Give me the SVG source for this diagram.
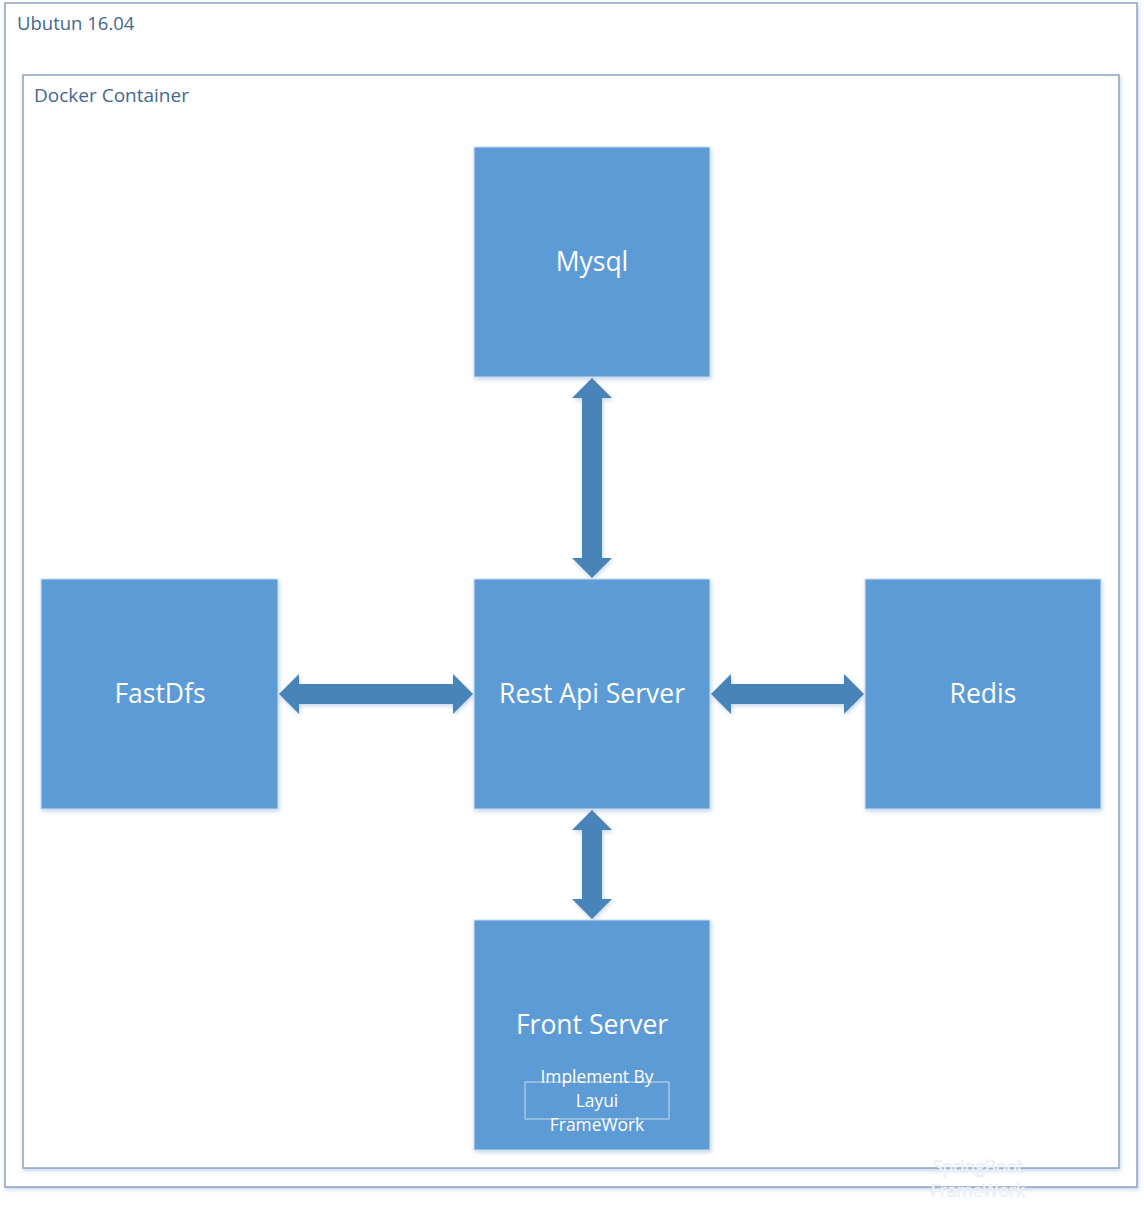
<svg xmlns="http://www.w3.org/2000/svg" width="1144" height="1217" viewBox="0 0 1144 1217">
<defs>
<style>
.frame{fill:#fff;stroke:#8ea3bf;stroke-width:1.5}
.flabel{font-family:"Open Sans","Noto Sans",sans-serif;font-size:18.5px;fill:#44678f}
.box{fill:#5b9bd5;stroke:#cfe0f0;stroke-width:1}
.title{font-family:"Open Sans","Noto Sans",sans-serif;font-size:26.5px;fill:#fff;text-anchor:middle}
.sub{font-family:"Open Sans","Noto Sans",sans-serif;font-size:17.4px;fill:#fff;text-anchor:middle}
.arrow{fill:#4a84b8}
</style>
<filter id="sh" x="-10%" y="-10%" width="120%" height="120%">
<feDropShadow dx="1" dy="2" stdDeviation="2" flood-color="#9dbbe0" flood-opacity="0.6"/>
</filter>
</defs>
<g id="ubuntu">
<rect class="frame" x="5" y="3" width="1132" height="1184" filter="url(#sh)"/>
<text class="flabel" x="17" y="30">Ubutun 16.04</text>
</g>
<g id="docker">
<rect class="frame" x="23" y="75" width="1096" height="1093" filter="url(#sh)"/>
<text class="flabel" x="34" y="102" style="font-size:19px">Docker Container</text>
</g>
<g id="mysql">
<rect class="box" x="474" y="147" width="236" height="230" filter="url(#sh)"/>
<text class="title" x="592" y="271">Mysql</text>
</g>
<g id="fastdfs">
<rect class="box" x="41" y="579" width="237" height="230" filter="url(#sh)"/>
<text class="title" x="160" y="703">FastDfs</text>
</g>
<g id="restapi">
<rect class="box" x="474" y="579" width="236" height="230" filter="url(#sh)"/>
<text class="title" x="592" y="703">Rest Api Server</text>
</g>
<g id="redis">
<rect class="box" x="865" y="579" width="236" height="230" filter="url(#sh)"/>
<text class="title" x="983" y="703">Redis</text>
</g>
<g id="front">
<rect class="box" x="474" y="920" width="236" height="230" filter="url(#sh)"/>
<text class="title" x="592" y="1034">Front Server</text>
<rect x="525" y="1082" width="144" height="37" fill="none" stroke="#c9dbee" stroke-width="1"/>
<text class="sub" x="597" y="1083">Implement By</text>
<text class="sub" x="597" y="1107">Layui</text>
<text class="sub" x="597" y="1131">FrameWork</text>
</g>
<g id="springboot">
<text class="sub" x="978" y="1173" style="stroke:#dfe8f3;stroke-width:0.6">SpringBoot</text>
<text class="sub" x="978" y="1197" style="stroke:#dfe8f3;stroke-width:0.6">FrameWork</text>
</g>
<g id="connectors" filter="url(#sh)">
<polygon class="arrow" points="592,378 612,398 602,398 602,558 612,558 592,578 572,558 582,558 582,398 572,398"/>
<polygon class="arrow" points="592,810 612,830 602,830 602,899 612,899 592,919 572,899 582,899 582,830 572,830"/>
<polygon class="arrow" points="279,694 299,674 299,684 453,684 453,674 473,694 453,714 453,704 299,704 299,714"/>
<polygon class="arrow" points="711,694 731,674 731,684 844,684 844,674 864,694 844,714 844,704 731,704 731,714"/>
</g>
</svg>
